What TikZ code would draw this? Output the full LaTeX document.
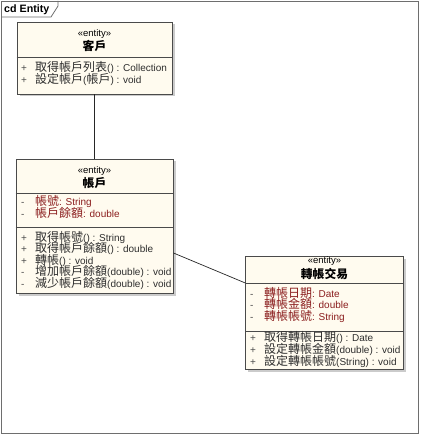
\documentclass[tikz,border=0pt]{standalone}
\usepackage{fontspec}
\setmainfont{Liberation Sans}
\newfontfamily\cjk{Noto Sans CJK TC}[Scale=1.2]
\usetikzlibrary{calc,shadows}
\definecolor{boxfill}{HTML}{FFFBEF}
\definecolor{attrred}{HTML}{8B1E1E}
\definecolor{methgray}{HTML}{2E2E2E}
\definecolor{framegray}{HTML}{6E6E6E}
\definecolor{bordergray}{HTML}{4A4A4A}
\begin{document}
\begin{tikzpicture}[x=1pt,y=-1pt,
  cls/.style={draw=bordergray, fill=boxfill, line width=0.8pt, inner sep=0pt,
    drop shadow={shadow xshift=2.5pt, shadow yshift=-2.5pt, fill=black!25, opacity=0.8}},
  sep/.style={draw=bordergray, line width=0.7pt},
  conn/.style={draw=black!85, line width=0.7pt},
  stereo/.style={inner sep=0pt, font=\fontsize{9.5}{10}\selectfont, text=black},
  cname/.style={inner sep=0pt, font=\fontsize{9.8}{12}\selectfont\cjk\bfseries, text=black},
  mk/.style={inner sep=0pt, anchor=base west, font=\fontsize{10}{12}\selectfont, text=black!70},
  attr/.style={inner sep=0pt, anchor=base west, font=\fontsize{10}{12}\selectfont, text=attrred},
  meth/.style={inner sep=0pt, anchor=base west, font=\fontsize{10}{12}\selectfont, text=methgray},
  tabtext/.style={inner sep=0pt, anchor=west, font=\fontsize{10.7}{12}\selectfont\bfseries}
]
\useasboundingbox (0,0) rectangle (420,435);
\fill[white] (0,0) rectangle (420,435);
% frame
\draw[draw=framegray, line width=0.8pt] (1,1) rectangle (418,433);
\draw[draw=framegray, line width=0.8pt] (1,17) -- (51,17) -- (58,6) -- (58,1);
\node[tabtext] (tab) at (4,9.5) {cd Entity};

% classes
\node[cls, minimum width=155pt, minimum height=72pt] (c1) at (94.5,58) {};
\node[cls, minimum width=157pt, minimum height=134pt] (c2) at (94.5,226) {};
\node[cls, minimum width=158pt, minimum height=113pt] (c3) at (324.5,312.5) {};

% separators
\coordinate (s1) at (0,57);
\coordinate (s2) at (0,193);
\coordinate (s3) at (0,227);
\coordinate (s4) at (0,283);
\coordinate (s5) at (0,331);
\draw[sep] (c1.west |- s1) -- (c1.east |- s1);
\draw[sep] (c2.west |- s2) -- (c2.east |- s2);
\draw[sep] (c2.west |- s3) -- (c2.east |- s3);
\draw[sep] (c3.west |- s4) -- (c3.east |- s4);
\draw[sep] (c3.west |- s5) -- (c3.east |- s5);

% connectors
\draw[conn] (c1.south) -- (c2.north);
\draw[conn] ($(c2.north east)!0.70!(c2.south east)$) -- ($(c3.north west)!0.24!(c3.south west)$);

% class 1
\node[stereo] (c1st) at (94.5,34) {«entity»};
\node[cname] (c1n) at (94.5,46) {客戶};
\node[mk] (c1m1k) at (21,72) {+};
\node[meth] (c1m1) at (35,72) {{\cjk 取得帳戶列表}() : Collection};
\node[mk] (c1m2k) at (21,84) {+};
\node[meth] (c1m2) at (35,84) {{\cjk 設定帳戶}({\cjk 帳戶}) : void};

% class 2
\node[stereo] (c2st) at (94.5,171) {«entity»};
\node[cname] (c2n) at (94.5,183) {帳戶};
\node[mk] (c2a1k) at (21,206) {-};
\node[attr] (c2a1) at (35,206) {{\cjk 帳號}: String};
\node[mk] (c2a2k) at (21,217.5) {-};
\node[attr] (c2a2) at (35,217.5) {{\cjk 帳戶餘額}: double};
\node[mk] (c2m1k) at (21,241) {+};
\node[meth] (c2m1) at (35,241) {{\cjk 取得帳號}() : String};
\node[mk] (c2m2k) at (21,252.5) {+};
\node[meth] (c2m2) at (35,252.5) {{\cjk 取得帳戶餘額}() : double};
\node[mk] (c2m3k) at (21,264) {+};
\node[meth] (c2m3) at (35,264) {{\cjk 轉帳}() : void};
\node[mk] (c2m4k) at (21,275.5) {-};
\node[meth] (c2m4) at (35,275.5) {{\cjk 增加帳戶餘額}(double) : void};
\node[mk] (c2m5k) at (21,287) {-};
\node[meth] (c2m5) at (35,287) {{\cjk 減少帳戶餘額}(double) : void};

% class 3
\node[stereo] (c3st) at (324.5,261.5) {«entity»};
\node[cname] (c3n) at (324.5,273.5) {轉帳交易};
\node[mk] (c3a1k) at (250,297) {-};
\node[attr] (c3a1) at (264,297) {{\cjk 轉帳日期}: Date};
\node[mk] (c3a2k) at (250,308.5) {-};
\node[attr] (c3a2) at (264,308.5) {{\cjk 轉帳金額}: double};
\node[mk] (c3a3k) at (250,320) {-};
\node[attr] (c3a3) at (264,320) {{\cjk 轉帳帳號}: String};
\node[mk] (c3m1k) at (250,341) {+};
\node[meth] (c3m1) at (264,341) {{\cjk 取得轉帳日期}() : Date};
\node[mk] (c3m2k) at (250,353) {+};
\node[meth] (c3m2) at (264,353) {{\cjk 設定轉帳金額}(double) : void};
\node[mk] (c3m3k) at (250,365) {+};
\node[meth] (c3m3) at (264,365) {{\cjk 設定轉帳帳號}(String) : void};
\end{tikzpicture}
\end{document}
